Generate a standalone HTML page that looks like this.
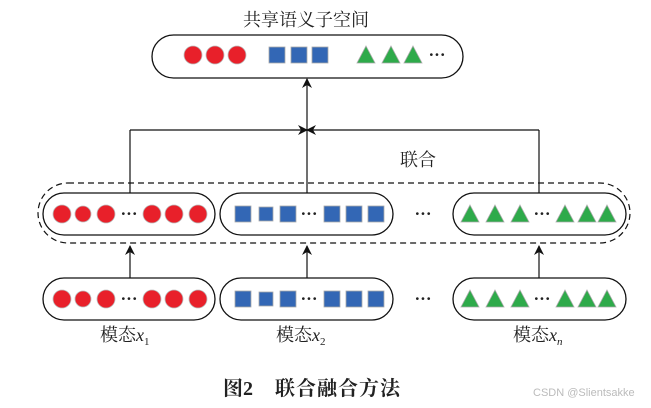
<!DOCTYPE html>
<html><head><meta charset="utf-8"><style>
html,body{margin:0;padding:0;background:#fff;width:651px;height:408px;overflow:hidden}
text{font-family:"Liberation Serif","Noto Serif CJK SC",serif;fill:#222}
</style></head><body>
<svg width="651" height="408" viewBox="0 0 651 408" xmlns="http://www.w3.org/2000/svg">
<defs>
<marker id="ah" markerWidth="10" markerHeight="10" refX="9" refY="5" orient="auto" markerUnits="userSpaceOnUse">
<path d="M0,0 L10,5 L0,10 L3,5 Z" fill="#111"/></marker>
<g id="c"><circle r="9" fill="#e8202a" stroke="#bbb" stroke-width="0.8"/></g>
<g id="cs"><circle r="8" fill="#e8202a" stroke="#bbb" stroke-width="0.8"/></g>
<g id="s"><rect x="-8" y="-8" width="16" height="16" fill="#3367b5" stroke="#aaa" stroke-width="0.8"/></g>
<g id="ss"><rect x="-7" y="-7" width="14" height="14" fill="#3367b5" stroke="#aaa" stroke-width="0.8"/></g>
<g id="t"><path d="M0,-9 L9,8 L-9,8 Z" fill="#2eaa4a" stroke="#aaa" stroke-width="0.8"/></g>
</defs>
<text x="306" y="26" font-size="18" text-anchor="middle">共享语义子空间</text>
<rect x="152" y="35" width="311" height="43" rx="21.5" fill="none" stroke="#111" stroke-width="1.3"/>
<use href="#c" x="193" y="55"/><use href="#c" x="215" y="55"/><use href="#c" x="237" y="55"/>
<use href="#s" x="277" y="55"/><use href="#s" x="299" y="55"/><use href="#s" x="320" y="55"/>
<use href="#t" x="366" y="55"/><use href="#t" x="391" y="55"/><use href="#t" x="413" y="55"/>
<text x="437" y="60" font-size="17" font-weight="bold" text-anchor="middle">···</text>

<line x1="307" y1="193" x2="307" y2="79" stroke="#111" stroke-width="1.2" marker-end="url(#ah)"/>
<line x1="130" y1="193" x2="130" y2="130" stroke="#111" stroke-width="1.2"/>
<line x1="539" y1="193" x2="539" y2="130" stroke="#111" stroke-width="1.2"/>
<line x1="130" y1="130" x2="307" y2="130" stroke="#111" stroke-width="1.2" marker-end="url(#ah)"/>
<line x1="539" y1="130" x2="307" y2="130" stroke="#111" stroke-width="1.2" marker-end="url(#ah)"/>
<text x="418" y="166" font-size="18" text-anchor="middle">联合</text>

<rect x="38" y="183" width="592" height="60" rx="30" fill="none" stroke="#111" stroke-width="1.2" stroke-dasharray="6,4"/>

<g id="row">
<rect x="43" y="193" width="172" height="42" rx="21" fill="#fff" stroke="#111" stroke-width="1.3"/>
<use href="#c" x="62" y="214"/><use href="#cs" x="83" y="214"/><use href="#c" x="106" y="214"/>
<text x="129" y="219" font-size="17" font-weight="bold" text-anchor="middle">···</text>
<use href="#c" x="152" y="214"/><use href="#c" x="174" y="214"/><use href="#c" x="198" y="214"/>
<rect x="220" y="193" width="173" height="42" rx="21" fill="#fff" stroke="#111" stroke-width="1.3"/>
<use href="#s" x="243" y="214"/><use href="#ss" x="266" y="214"/><use href="#s" x="288" y="214"/>
<text x="309" y="219" font-size="17" font-weight="bold" text-anchor="middle">···</text>
<use href="#s" x="332" y="214"/><use href="#s" x="354" y="214"/><use href="#s" x="376" y="214"/>
<text x="423" y="219" font-size="17" font-weight="bold" text-anchor="middle">···</text>
<rect x="453" y="193" width="173" height="42" rx="21" fill="#fff" stroke="#111" stroke-width="1.3"/>
<use href="#t" x="470" y="214"/><use href="#t" x="495" y="214"/><use href="#t" x="520" y="214"/>
<text x="542" y="219" font-size="17" font-weight="bold" text-anchor="middle">···</text>
<use href="#t" x="565" y="214"/><use href="#t" x="587" y="214"/><use href="#t" x="607" y="214"/>
</g>
<use href="#row" x="0" y="85"/>

<line x1="130" y1="278" x2="130" y2="246" stroke="#111" stroke-width="1.2" marker-end="url(#ah)"/>
<line x1="307" y1="278" x2="307" y2="246" stroke="#111" stroke-width="1.2" marker-end="url(#ah)"/>
<line x1="539" y1="278" x2="539" y2="246" stroke="#111" stroke-width="1.2" marker-end="url(#ah)"/>

<text x="100" y="341" font-size="18">模态<tspan font-style="italic">x</tspan><tspan font-size="11" dy="4">1</tspan></text>
<text x="276" y="341" font-size="18">模态<tspan font-style="italic">x</tspan><tspan font-size="11" dy="4">2</tspan></text>
<text x="513" y="341" font-size="18">模态<tspan font-style="italic">x</tspan><tspan font-size="11" dy="4" font-style="italic">n</tspan></text>

<text x="223" y="395" font-size="20" font-weight="bold">图2</text>
<text x="275" y="395" font-size="20" font-weight="bold" letter-spacing="1">联合融合方法</text>
<text x="533" y="396" font-size="11" style="font-family:'Liberation Sans',sans-serif;fill:#bbb">CSDN @Slientsakke</text>
</svg>
</body></html>
